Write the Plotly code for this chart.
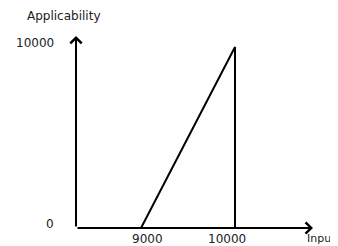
import plotly.graph_objects as go

# data
x_pts = [9000, 10000, 10000]
y_pts = [0, 10000, 0]
x_ticks = [9000, 10000]
x_tick_text = ["9000", "10000"]
y_ticks = [0, 10000]
y_tick_text = ["0", "10000"]
x_range = [8308, 10830]
y_range = [0, 10608]

FONT = "DejaVu Sans"
TXT = "#222222"

fig = go.Figure()
fig.add_trace(go.Scatter(x=x_pts, y=y_pts, mode="lines",
                         line=dict(color="black", width=2), hoverinfo="skip"))

# axis arrows
fig.add_annotation(x=x_range[1], y=y_range[0], ax=x_range[0], ay=y_range[0],
                   xref="x", yref="y", axref="x", ayref="y", text="",
                   showarrow=True, arrowhead=4, arrowsize=1.1, arrowwidth=2, arrowcolor="black")
fig.add_annotation(x=x_range[0], y=y_range[1], ax=x_range[0], ay=y_range[0],
                   xref="x", yref="y", axref="x", ayref="y", text="",
                   showarrow=True, arrowhead=4, arrowsize=1.1, arrowwidth=2, arrowcolor="black")

# tick labels
xshifts = [6, -8]
for v, t, s in zip(x_ticks, x_tick_text, xshifts):
    fig.add_annotation(x=v, y=y_range[0], xref="x", yref="y", text=t, showarrow=False,
                       xanchor="center", yanchor="top", yshift=-2, xshift=s,
                       font=dict(family=FONT, size=12, color=TXT))
for v, t in zip(y_ticks, y_tick_text):
    fig.add_annotation(x=x_range[0], y=v, xref="x", yref="y", text=t, showarrow=False,
                       xanchor="right", yanchor="middle", xshift=-20, yshift=4,
                       font=dict(family=FONT, size=12, color=TXT))

# axis titles
fig.add_annotation(x=x_range[1], y=y_range[0], xref="x", yref="y", text="Input", showarrow=False,
                   xanchor="left", yanchor="top", xshift=-8, yshift=-2,
                   font=dict(family=FONT, size=11, color=TXT))
fig.add_annotation(x=x_range[0], y=y_range[1], xref="x", yref="y", text="Applicability", showarrow=False,
                   xanchor="center", yanchor="bottom", xshift=-12, yshift=11,
                   font=dict(family=FONT, size=12, color=TXT))

fig.update_xaxes(range=x_range, visible=False, showgrid=False, zeroline=False)
fig.update_yaxes(range=y_range, visible=False, showgrid=False, zeroline=False)
fig.update_layout(width=330, height=238, margin=dict(l=68, r=25, t=28, b=18),
                  plot_bgcolor="white", paper_bgcolor="white", showlegend=False)

fig.write_html("out.html")
